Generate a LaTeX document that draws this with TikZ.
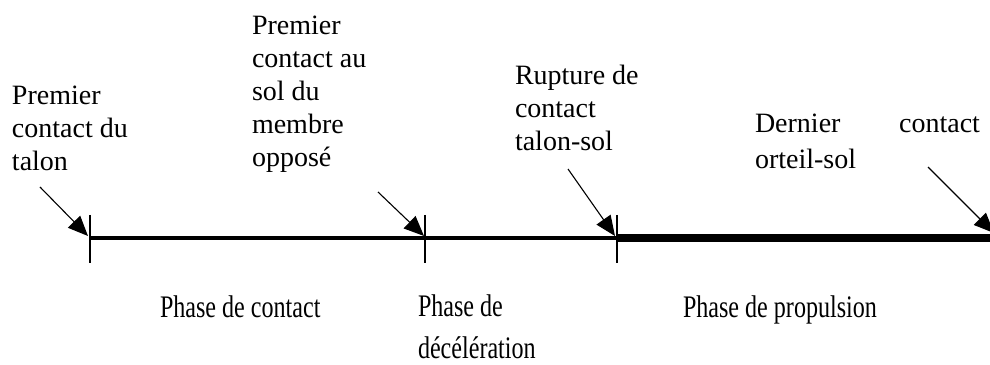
\documentclass[tikz,border=0pt]{standalone}
\usepackage{fontspec}
\usepackage{graphicx}
\setmainfont{Liberation Serif}
\usetikzlibrary{arrows.meta}
\tikzset{
  lbl/.style={inner sep=0pt, outer sep=0pt, anchor=base west, align=left,
    font=\fontsize{28}{33}\selectfont},
  tick/.style={line width=1.2pt},
  ptr/.style={line width=1.1pt, -{Triangle[length=20pt,width=17pt]}},
  ph/.style={inner sep=0pt, outer sep=0pt, anchor=base west,
    font=\fontsize{28}{37.5}\selectfont},
}
\begin{document}
\begin{tikzpicture}[x=1pt,y=1pt]
\useasboundingbox (0,0) rectangle (990,364);
% time axis points
\coordinate (t1) at (90,126);
\coordinate (t2) at (425,126);
\coordinate (t3) at (617,126);
\coordinate (t4) at (990,126);
% axis segments
\draw[line width=3.5pt] (t1) -- (t2);
\draw[line width=4pt] (t2) -- (t3);
\draw[line width=8pt] (t3) -- (t4);
% ticks
\foreach \p in {t1,t2,t3}{
  \draw[tick] ([yshift=23pt]\p) -- ([yshift=-25pt]\p);
}
% labels (anchored at the baseline of their last line)
\node[lbl] (l1) at (12,193) {Premier\\contact du\\talon};
\node[lbl] (l2) at (252,197) {Premier\\contact au\\sol du\\membre\\opposé};
\node[lbl] (l3) at (515,213) {Rupture de\\contact\\talon-sol};
% this one is anchored at its first line
\node[lbl, text width=225pt, align=justify, font=\fontsize{28}{36}\selectfont] (l4) at (755,231) {Dernier\hfill contact\\orteil-sol};
% arrow tails and tips
\coordinate (a1) at (40,177);
\coordinate (a2) at (378,172);
\coordinate (a3) at (568,195);
\coordinate (a4) at (928,197);
\coordinate (e1) at (88,128);
\coordinate (e2) at (424,128);
\coordinate (e3) at (615,128);
\coordinate (e4) at (994,131);
\draw[ptr] (a1) -- (e1);
\draw[ptr] (a2) -- (e2);
\draw[ptr] (a3) -- (e3);
\draw[ptr] (a4) -- (e4);
% phase labels
\node[ph] (p1) at (160,46) {\scalebox{0.86}[1.12]{Phase de contact}};
\node[ph] (p2) at (418,47) {\scalebox{0.86}[1.12]{\begin{tabular}[t]{@{}l@{}}Phase de\\décélération\end{tabular}}};
\node[ph] (p3) at (683,46) {\scalebox{0.86}[1.12]{Phase de propulsion}};
\end{tikzpicture}
\end{document}
